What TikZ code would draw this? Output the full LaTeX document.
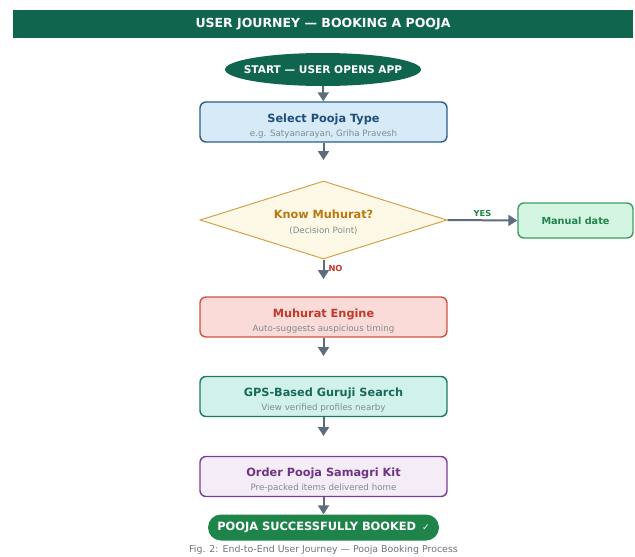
\documentclass[tikz,border=0pt]{standalone}
\usepackage{fontspec}
\setmainfont{DejaVu Sans}
\usetikzlibrary{arrows.meta,shapes.geometric}

\definecolor{hdrgreen}{HTML}{10654F}
\definecolor{arrowgray}{HTML}{5D6D7E}
\definecolor{subgray}{HTML}{7F8C8D}
\definecolor{selfill}{HTML}{D6EAF8}
\definecolor{seldraw}{HTML}{2E5E86}
\definecolor{seltext}{HTML}{1F4E79}
\definecolor{decfill}{HTML}{FEF9E7}
\definecolor{decdraw}{HTML}{D4A24C}
\definecolor{dectext}{HTML}{B9770E}
\definecolor{manfill}{HTML}{D5F5E3}
\definecolor{mandraw}{HTML}{3E9E5F}
\definecolor{okgreen}{HTML}{1E8449}
\definecolor{nored}{HTML}{C0392B}
\definecolor{muhfill}{HTML}{FADBD8}
\definecolor{muhdraw}{HTML}{CD5345}
\definecolor{gpsfill}{HTML}{D1F2EB}
\definecolor{gpsdraw}{HTML}{1A7A63}
\definecolor{gpstext}{HTML}{17695A}
\definecolor{ordfill}{HTML}{F4ECF7}
\definecolor{orddraw}{HTML}{7D3C98}
\definecolor{ordtext}{HTML}{6C3483}
\definecolor{capgray}{HTML}{6C757D}

\begin{document}
\begin{tikzpicture}[
                x=1pt, y=-1pt,
                stepbox/.style={rectangle, rounded corners=6pt, line width=1.4pt,
                    minimum width=247pt, minimum height=40pt, inner sep=0pt},
                boxtitle/.style={anchor=base, inner sep=0pt, font=\bfseries\fontsize{11.3}{13}\selectfont},
                boxsub/.style={anchor=base, inner sep=0pt, text=subgray, font=\fontsize{8.7}{10}\selectfont},
                flow/.style={draw=arrowgray, line width=2pt,
                    -{Triangle[width=11pt,length=9pt]}},
                tag/.style={font=\bfseries\fontsize{8.3}{9}\selectfont, inner sep=0pt}
            ]

            \useasboundingbox (0,0) rectangle (635,557);

            % header bar
            \fill[hdrgreen] (13,10) rectangle (633,38);
            \node[text=white, font=\bfseries\fontsize{12.5}{14}\selectfont] (title) at (323,24) {USER JOURNEY — BOOKING A POOJA};

            % start
            \node[ellipse, fill=hdrgreen, minimum width=196pt, minimum height=33pt, inner sep=0pt] (start) at (323,69.5) {};
            \node[text=white, inner sep=0pt, font=\bfseries\fontsize{10.6}{12}\selectfont] (startT) at (start.center) {START — USER OPENS APP};

            % steps
            \node[stepbox, fill=selfill, draw=seldraw] (select) at (323.5,122) {};
            \node[boxtitle, text=seltext] (selectT) at (323.5,122) {Select Pooja Type};
            \node[boxsub] (selectS) at (323.5,136) {e.g. Satyanarayan, Griha Pravesh};
            \coordinate (selend) at (323.5,160);

            \node[diamond, fill=decfill, draw=decdraw, line width=1pt, aspect=3.17,
                minimum width=247pt, minimum height=78pt, inner sep=0pt] (decide) at (323.5,220) {};
            \node[boxtitle, text=dectext] (decideT) at (323.5,218) {Know Muhurat?};
            \node[boxsub] (decideS) at (323.5,233) {(Decision Point)};
            \coordinate (noend) at (323.5,279);

            \node[stepbox, fill=manfill, draw=mandraw, minimum width=115pt, minimum height=35pt,
                text=okgreen, font=\bfseries\fontsize{9.7}{11}\selectfont] (manual) at (575.5,220.5) {Manual date};

            \node[stepbox, fill=muhfill, draw=muhdraw] (engine) at (323.5,317) {};
            \node[boxtitle, text=nored] (engineT) at (323.5,317) {Muhurat Engine};
            \node[boxsub] (engineS) at (323.5,331) {Auto-suggests auspicious timing};
            \coordinate (engend) at (323.5,356);

            \node[stepbox, fill=gpsfill, draw=gpsdraw] (guruji) at (323.5,396.5) {};
            \node[boxtitle, text=gpstext] (gurujiT) at (323.5,396.5) {GPS-Based Guruji Search};
            \node[boxsub] (gurujiS) at (323.5,410.5) {View verified profiles nearby};
            \coordinate (gpsend) at (323.5,436);

            \node[stepbox, fill=ordfill, draw=orddraw] (samagri) at (323.5,476.5) {};
            \node[boxtitle, text=ordtext] (samagriT) at (323.5,476.5) {Order Pooja Samagri Kit};
            \node[boxsub] (samagriS) at (323.5,490.5) {Pre-packed items delivered home};

            % end
            \node[rectangle, rounded corners=13pt, fill=okgreen, minimum width=231pt, minimum height=26pt,
                inner sep=0pt, text=white, font=\bfseries\fontsize{11.4}{13}\selectfont] (booked) at (323.5,527.5)
                {POOJA SUCCESSFULLY BOOKED \,{\fontsize{9}{10}\selectfont\mdseries ✓}};

            \node[text=capgray, font=\fontsize{9.4}{11}\selectfont] (caption) at (323.5,550)
                {Fig. 2: End-to-End User Journey — Pooja Booking Process};

            % connectors
            \draw[flow] (start) -- (select);
            \draw[flow] (select) -- (selend);
            \draw[flow] (decide.east) -- (manual.west) node[tag, text=okgreen, pos=0.5, above=3pt] (yes) {YES};
            \draw[flow] (decide.south) -- (noend) node[tag, text=nored, pos=0.47, right=4pt] (no) {NO};
            \draw[flow] (engine) -- (engend);
            \draw[flow] (guruji) -- (gpsend);
            \draw[flow] (samagri) -- (booked);

        \end{tikzpicture}
\end{document}
